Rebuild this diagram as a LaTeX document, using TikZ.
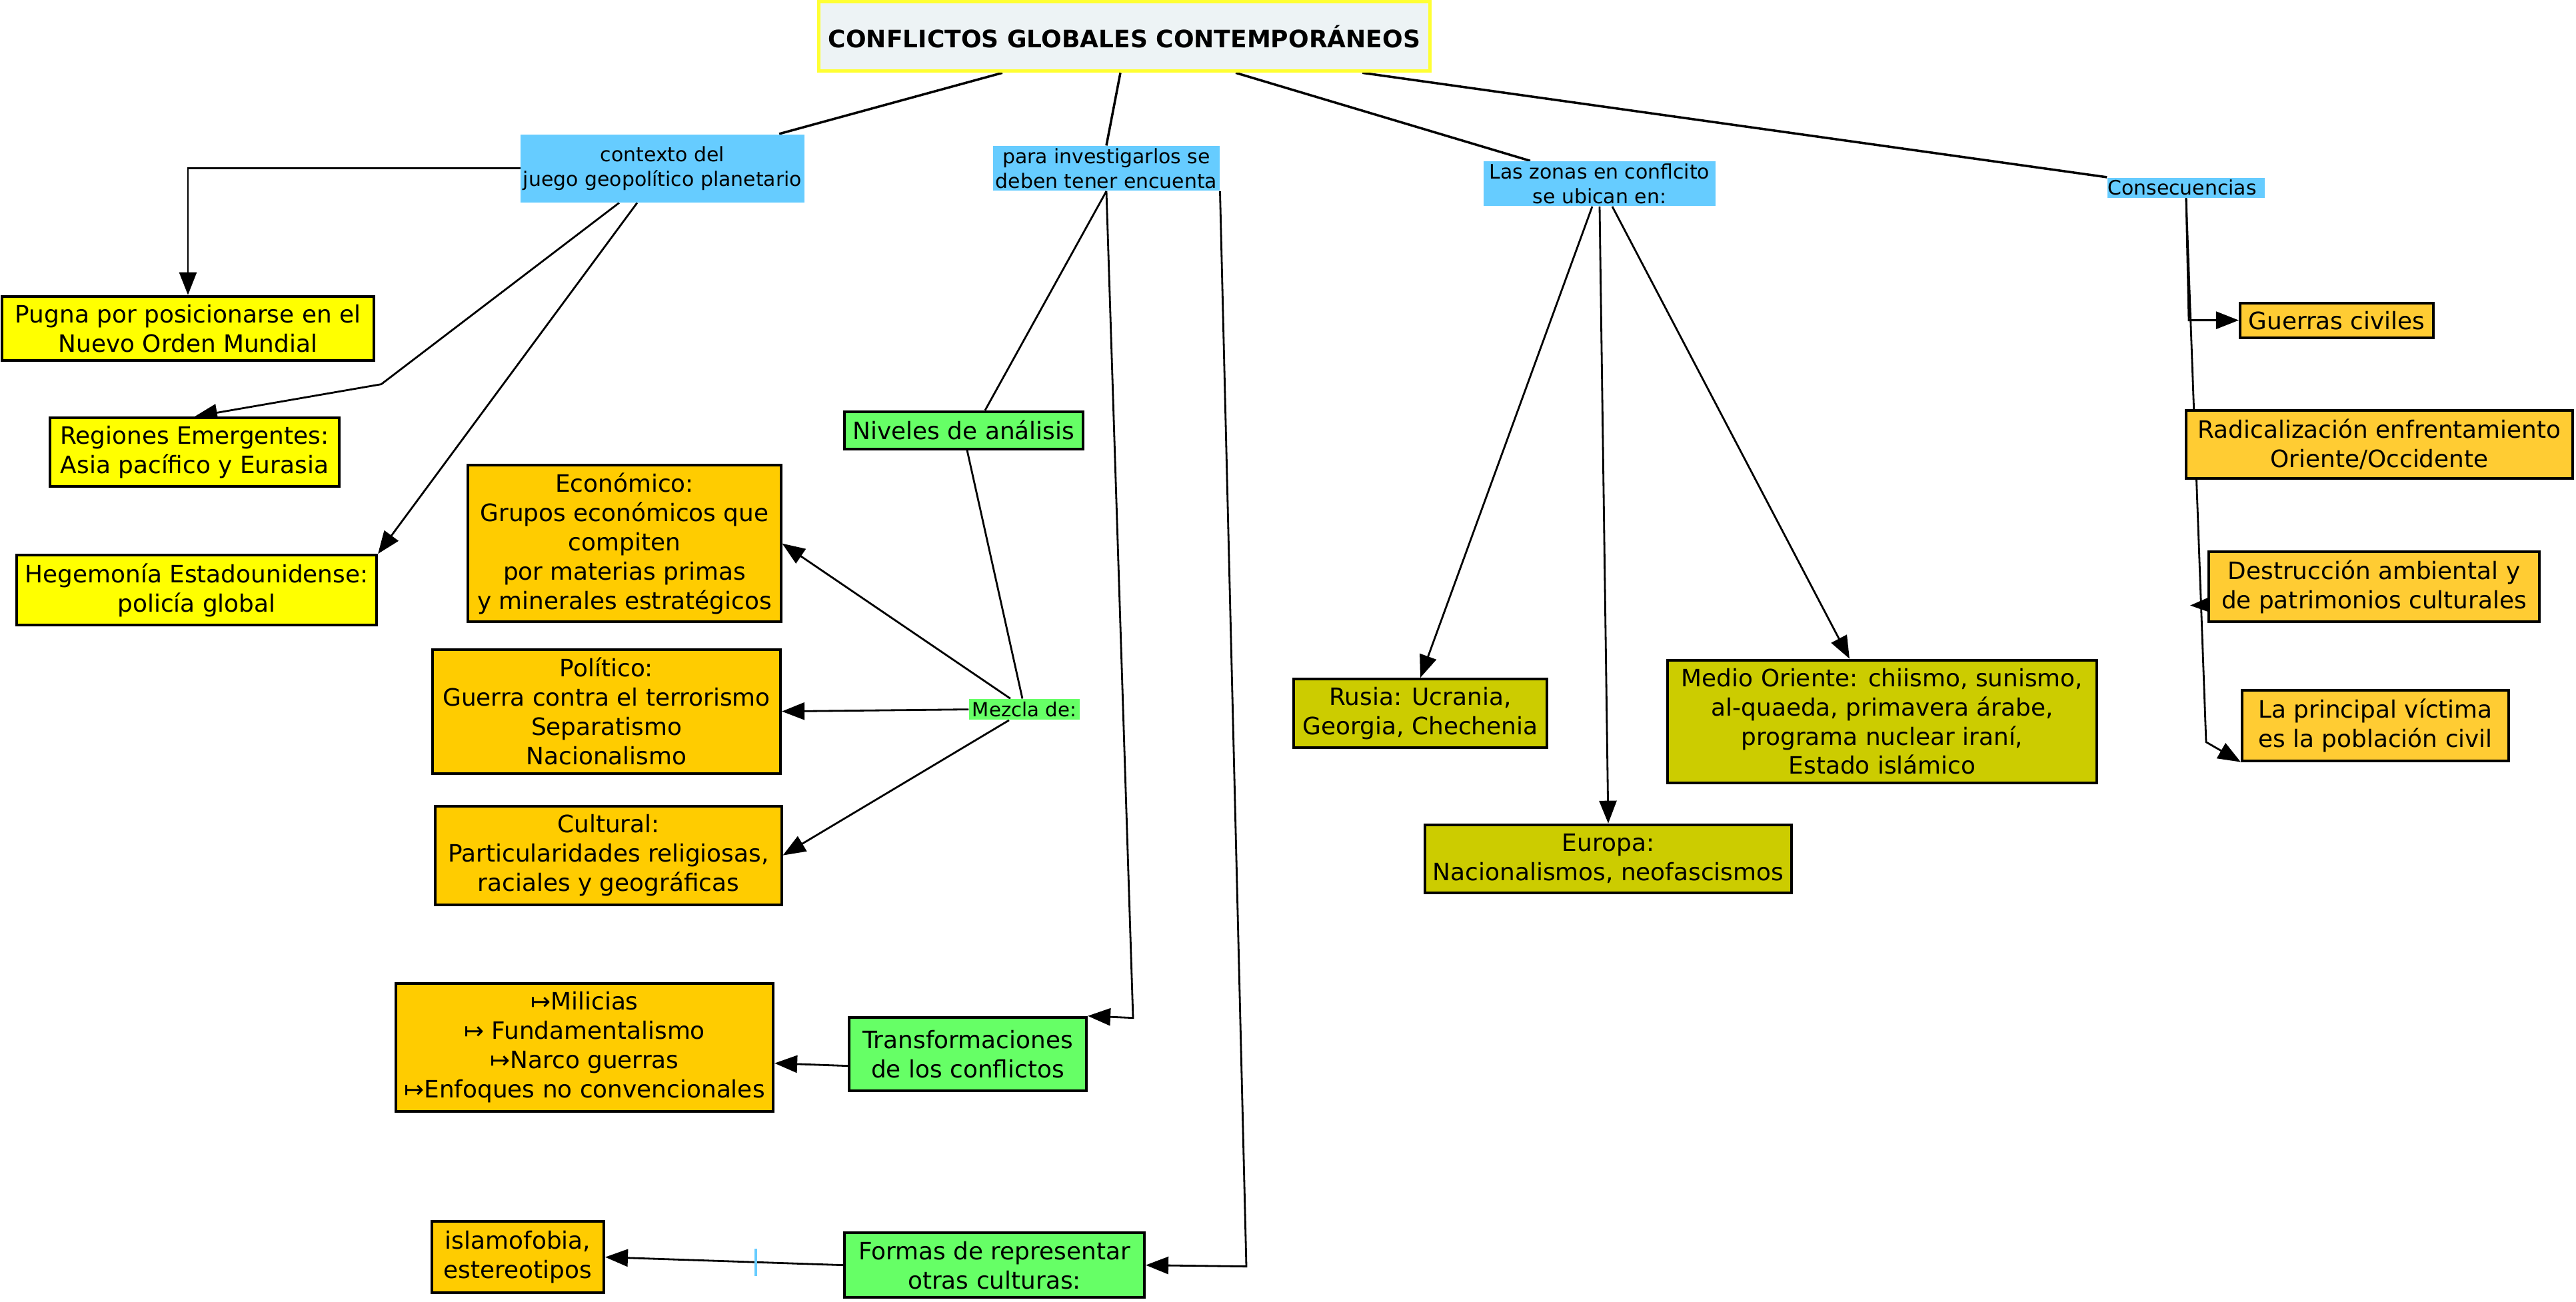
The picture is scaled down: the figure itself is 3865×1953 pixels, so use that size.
\documentclass[tikz,border=0pt]{standalone}
\usepackage{fontspec}
\setmainfont{DejaVu Sans}
\usetikzlibrary{arrows.meta,backgrounds}
\definecolor{rootfill}{HTML}{EDF3F5}
\definecolor{rootline}{HTML}{FFFF33}
\definecolor{labelblue}{HTML}{66CCFF}
\definecolor{boxyellow}{HTML}{FFFF00}
\definecolor{boxorange}{HTML}{FFCC00}
\definecolor{boxamber}{HTML}{FFCC33}
\definecolor{boxgreen}{HTML}{66FF66}
\definecolor{boxolive}{HTML}{CCCC00}
\newcommand\nodetxt{\fontsize{10.2}{12.5}\selectfont}
\newcommand\labeltxt{\fontsize{8.5}{10.5}\selectfont}
\begin{document}
\begin{tikzpicture}[x = 0.01cm, y = -0.01cm]
      \tikzstyle{every node} = [inner sep = 2pt, align = center];
      \tikzstyle{box} = [draw = black, line width = 1.1pt, font = \nodetxt];
      \tikzstyle{lbl} = [fill = labelblue, inner sep = 1pt, font = \labeltxt];
      \tikzstyle{line} = [line width = 0.8pt];
      \tikzstyle{arr} = [line width = 0.8pt, -{Triangle[length = 0.34cm, width = 0.26cm]}];
      \node(root) [draw = rootline, fill = rootfill, line width = 1.5pt, font = \fontsize{10.25}{12}\selectfont\bfseries,
        minimum width = 9.16cm, minimum height = 1.04cm] at (1687, 54) {CONFLICTOS GLOBALES CONTEMPORÁNEOS};
      \node(contexto) [lbl, minimum width = 4.24cm, minimum height = 1.02cm] at (994, 252) {contexto del\\juego geopolítico planetario};
      \node(investigar) [lbl, minimum width = 3.36cm, minimum height = 0.66cm] at (1660, 252) {para investigarlos se\\deben tener encuenta};
      \node(zonas) [lbl, minimum width = 3.47cm, minimum height = 0.66cm] at (2400, 275) {Las zonas en conflcito\\se ubican en:};
      \node(consec) [lbl, minimum width = 2.36cm, minimum height = 0.30cm, inner sep = 0pt] at (3280, 281) {Consecuencias\hspace{0.12cm}};
      \node(pugna) [box, fill = boxyellow, minimum width = 5.57cm, minimum height = 0.96cm] at (282, 492) {Pugna por posicionarse en el\\Nuevo Orden Mundial};
      \node(regiones) [box, fill = boxyellow, minimum width = 4.33cm, minimum height = 1.03cm] at (292, 678) {Regiones Emergentes:\\Asia pacífico y Eurasia};
      \node(hegemonia) [box, fill = boxyellow, minimum width = 5.40cm, minimum height = 1.05cm] at (295, 885) {Hegemonía Estadounidense:\\policía global};
      \node(niveles) [box, fill = boxgreen, minimum width = 3.57cm, minimum height = 0.56cm] at (1446, 645) {Niveles de análisis};
      \node(mezcla) [fill = boxgreen, inner sep = 1pt, font = \fontsize{8.3}{10}\selectfont, minimum width = 1.66cm, minimum height = 0.31cm] at (1537, 1064) {Mezcla de:};
      \node(economico) [box, fill = boxorange, minimum width = 4.69cm, minimum height = 2.35cm] at (937, 815) {Económico:\\Grupos económicos que\\compiten\\por materias primas\\y minerales estratégicos};
      \node(politico) [box, fill = boxorange, minimum width = 5.22cm, minimum height = 1.86cm] at (910, 1067) {Político:\\Guerra contra el terrorismo\\Separatismo\\Nacionalismo};
      \node(cultural) [box, fill = boxorange, minimum width = 5.19cm, minimum height = 1.48cm] at (913, 1283) {Cultural:\\Particularidades religiosas,\\raciales y geográficas};
      \node(transf) [box, fill = boxgreen, minimum width = 3.56cm, minimum height = 1.10cm] at (1452, 1581) {Transformaciones\\de los conflictos};
      \node(milicias) [box, fill = boxorange, minimum width = 5.66cm, minimum height = 1.92cm] at (877, 1571) {↦Milicias\\↦ Fundamentalismo\\↦Narco guerras\\↦Enfoques no convencionales};
      \node(formas) [box, fill = boxgreen, minimum width = 4.50cm, minimum height = 0.97cm] at (1492, 1898) {Formas de representar\\otras culturas:};
      \node(islam) [box, fill = boxorange, minimum width = 2.58cm, minimum height = 1.07cm] at (777, 1886) {islamofobia,\\estereotipos};
      \node(rusia) [box, fill = boxolive, minimum width = 3.79cm, minimum height = 1.03cm] at (2131, 1070) {Rusia: Ucrania,\\Georgia, Chechenia};
      \node(europa) [box, fill = boxolive, minimum width = 5.50cm, minimum height = 1.02cm] at (2413, 1288) {Europa:\\Nacionalismos, neofascismos};
      \node(medio) [box, fill = boxolive, minimum width = 6.44cm, minimum height = 1.84cm] at (2824, 1082) {Medio Oriente: chiismo, sunismo,\\al-quaeda, primavera árabe,\\programa nuclear iraní,\\Estado islámico};
      \node(guerras) [box, fill = boxamber, minimum width = 2.90cm, minimum height = 0.52cm] at (3506, 480) {Guerras civiles};
      \node(radical) [box, fill = boxamber, minimum width = 5.79cm, minimum height = 1.02cm] at (3570, 666) {Radicalización enfrentamiento\\Oriente/Occidente};
      \node(destruc) [box, fill = boxamber, minimum width = 4.95cm, minimum height = 1.05cm] at (3562, 880) {Destrucción ambiental y\\de patrimonios culturales};
      \node(victima) [box, fill = boxamber, minimum width = 4.00cm, minimum height = 1.06cm] at (3564, 1088) {La principal víctima\\es la población civil};
      \coordinate (regbend) at (572, 576);
      \coordinate (transfbend) at (1700, 1527);
      \coordinate (formasbend) at (1870, 1900);
      \coordinate (guerrasbend) at (3284, 480);
      \coordinate (victimabend) at (3310, 1113);
      \coordinate (destrucend) at (3286, 908);
      \begin{scope}[on background layer]
        \fill[white] (0, 0) rectangle (3865, 1953);
        \path[line, line width = 1pt]
        ([xshift = -1.83cm]root.south) edge ([xshift = 1.75cm]contexto.north)
        ([xshift = -0.06cm]root.south) edge (investigar.north)
        ([xshift = 1.67cm]root.south) edge ([xshift = -1.04cm]zonas.north)
        ([xshift = 3.57cm]root.south) edge (consec.north west);
        \draw[arr] (contexto.west) -| (pugna.north);
        \draw[arr] ([xshift = -0.65cm]contexto.south) -- (regbend) -- (regiones.north);
        \draw[arr] ([xshift = -0.38cm]contexto.south) -- (hegemonia.north east);
        \draw[line] (investigar.south) -- ([xshift = 0.32cm]niveles.north);
        \draw[arr] (investigar.south) -- (transfbend) -- (transf.north east);
        \draw[arr] (investigar.south east) -- (formasbend) -- (formas.east);
        \draw[line] ([xshift = 0.05cm]niveles.south) -- ([xshift = -0.03cm]mezcla.north);
        \path[arr]
        ([xshift = -0.21cm]mezcla.north) edge (economico.east)
        (mezcla.west) edge (politico.east)
        ([xshift = -0.23cm]mezcla.south) edge (cultural.east);
        \path[arr] ([yshift = -0.18cm]transf.west) edge ([yshift = -0.24cm]milicias.east);
        \draw[arr] (formas.west) -- coordinate[pos = 0.366] (tickmid) (islam.east);
        \path[arr]
        ([xshift = -0.11cm]zonas.south) edge (rusia.north)
        (zonas.south) edge (europa.north)
        ([xshift = 0.19cm]zonas.south) edge ([xshift = -0.49cm]medio.north);
        \draw[arr] (consec.south) -- (guerrasbend) -- (guerras.west);
        \draw[arr] (consec.south) -- (victimabend) -- (victima.south west);
        \draw[arr] ([yshift = -0.27cm]destruc.west) -- (destrucend);
      \end{scope}
      \draw[labelblue, line width = 1.1pt] ([yshift = 0.2cm]tickmid) -- ([yshift = -0.21cm]tickmid);
    \end{tikzpicture}
\end{document}
